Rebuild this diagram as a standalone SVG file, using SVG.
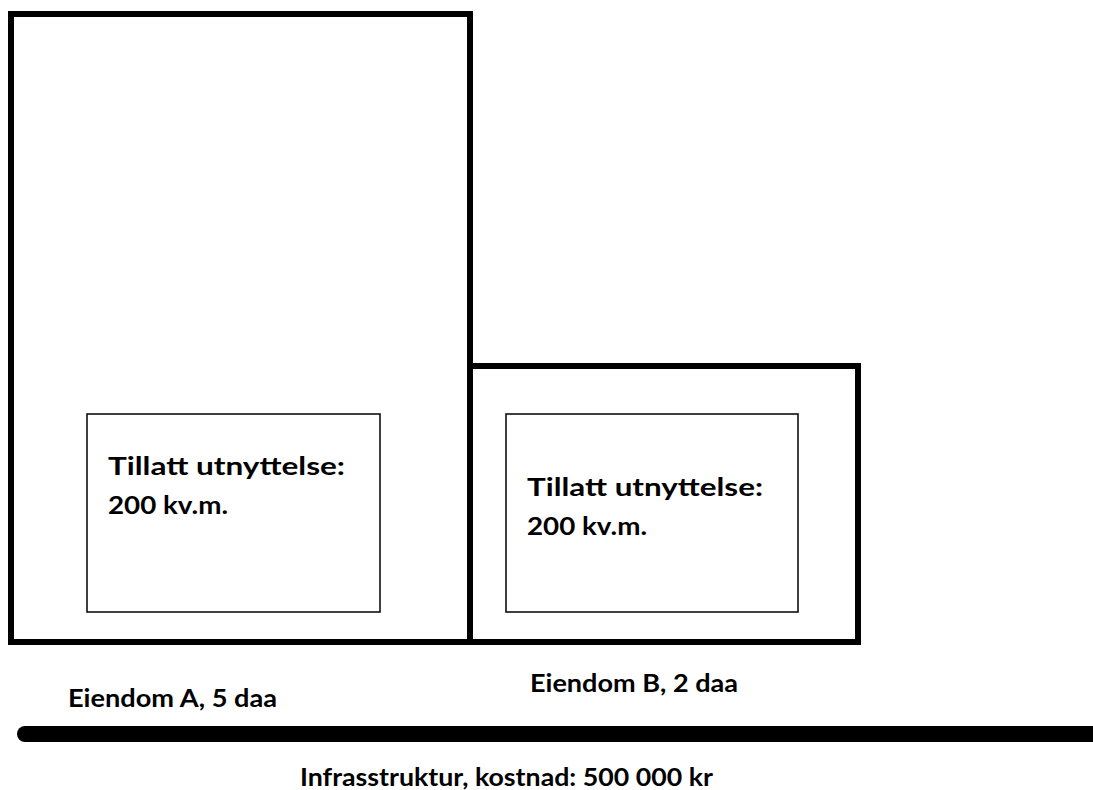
<svg xmlns="http://www.w3.org/2000/svg" width="1093" height="790" viewBox="0 0 1093 790">
<style>
.plot{fill:none;stroke:#000;stroke-width:6}
.bld{fill:#fff;stroke:#000;stroke-width:1.5}
text{font-family:Lato,"Liberation Sans",sans-serif;font-weight:bold;font-size:24px;fill:#000}
</style>
<rect width="1093" height="790" fill="#fff"/>
<g id="eiendom-a">
<rect class="plot" x="11" y="14" width="459" height="628"/>
<rect class="bld" x="87" y="414" width="293" height="198"/>
<text x="108" y="475" textLength="237" lengthAdjust="spacingAndGlyphs">Tillatt utnyttelse:</text>
<text x="108" y="514" textLength="120" lengthAdjust="spacingAndGlyphs">200 kv.m.</text>
<text x="68" y="707" textLength="209" lengthAdjust="spacingAndGlyphs">Eiendom A, 5 daa</text>
</g>
<g id="eiendom-b">
<rect class="plot" x="470" y="366" width="388" height="276"/>
<rect class="bld" x="506" y="414" width="292" height="198"/>
<text x="527" y="496" textLength="236" lengthAdjust="spacingAndGlyphs">Tillatt utnyttelse:</text>
<text x="527" y="535" textLength="120" lengthAdjust="spacingAndGlyphs">200 kv.m.</text>
<text x="530" y="692" textLength="208" lengthAdjust="spacingAndGlyphs">Eiendom B, 2 daa</text>
</g>
<g id="infrastruktur">
<line x1="25" y1="734" x2="1100" y2="734" stroke="#000" stroke-width="16" stroke-linecap="round"/>
<text x="300" y="786" textLength="413" lengthAdjust="spacingAndGlyphs">Infrasstruktur, kostnad: 500 000 kr</text>
</g>
</svg>
